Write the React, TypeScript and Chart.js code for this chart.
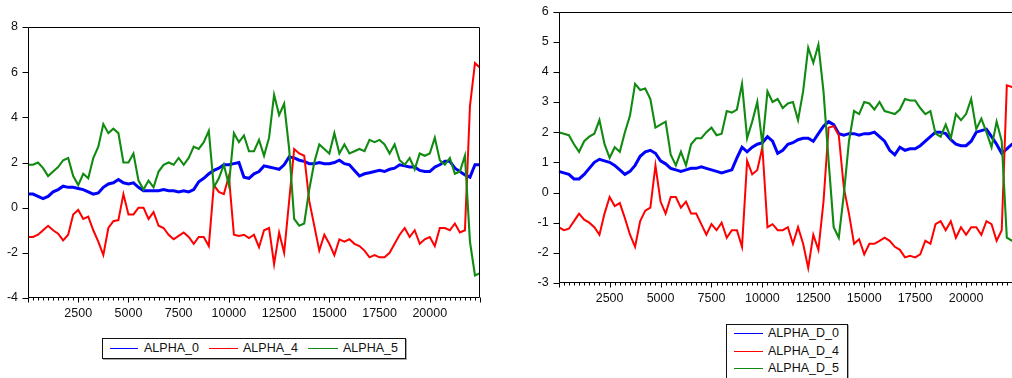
import React, { useEffect, useRef } from 'react';
import { Chart, registerables } from 'chart.js';
Chart.register(...registerables);

// observation index (categories), one sample every 250 observations
const OBS = [
  0, 250, 500, 750, 1000, 1250, 1500, 1750, 2000, 2250,
  2500, 2750, 3000, 3250, 3500, 3750, 4000, 4250, 4500, 4750,
  5000, 5250, 5500, 5750, 6000, 6250, 6500, 6750, 7000, 7250,
  7500, 7750, 8000, 8250, 8500, 8750, 9000, 9250, 9500, 9750,
  10000, 10250, 10500, 10750, 11000, 11250, 11500, 11750, 12000, 12250,
  12500, 12750, 13000, 13250, 13500, 13750, 14000, 14250, 14500, 14750,
  15000, 15250, 15500, 15750, 16000, 16250, 16500, 16750, 17000, 17250,
  17500, 17750, 18000, 18250, 18500, 18750, 19000, 19250, 19500, 19750,
  20000, 20250, 20500, 20750, 21000, 21250, 21500, 21750, 22000, 22250,
  22500,
];

const X_TICK_LABELS = [2500, 5000, 7500, 10000, 12500, 15000, 17500, 20000];

// Left panel
const ALPHA_0 = [
  0.6, 0.6, 0.5, 0.4, 0.5, 0.7, 0.8, 0.95, 0.9, 0.9,
  0.85, 0.8, 0.7, 0.6, 0.65, 0.9, 1.05, 1.1, 1.25, 1.1,
  1.05, 1.1, 0.9, 0.75, 0.75, 0.75, 0.75, 0.8, 0.75, 0.75,
  0.7, 0.75, 0.7, 0.8, 1.15, 1.3, 1.5, 1.65, 1.75, 1.9,
  1.9, 1.95, 2.0, 1.35, 1.3, 1.5, 1.6, 1.85, 1.8, 1.75,
  1.7, 1.9, 2.25, 2.2, 2.1, 2.05, 1.95, 1.95, 2.0, 1.95,
  1.95, 2.0, 2.1, 1.95, 1.9, 1.65, 1.4, 1.5, 1.55, 1.6,
  1.65, 1.6, 1.7, 1.75, 1.9, 1.85, 1.8, 1.8, 1.65, 1.6,
  1.6, 1.8, 1.9, 2.05, 2.05, 1.75, 1.6, 1.45, 1.35, 1.9,
  1.9,
];
const ALPHA_4 = [
  -1.3, -1.3, -1.2, -1.0, -0.8, -1.0, -1.15, -1.45, -1.2, -0.3,
  -0.1, -0.5, -0.4, -1.0, -1.5, -2.1, -0.9, -0.6, -0.55, 0.6,
  -0.3, -0.3, 0.0, 0.0, -0.5, -0.2, -0.8, -0.9, -1.2, -1.4,
  -1.25, -1.1, -1.3, -1.6, -1.3, -1.3, -1.7, 1.0, 0.7, 0.6,
  1.4, -1.2, -1.25, -1.2, -1.35, -1.2, -1.75, -1.0, -0.9, -2.5,
  -1.1, -2.0, 0.3, 2.6, 2.4, 2.3, 0.3, -0.8, -1.9, -1.2,
  -1.6, -2.1, -1.4, -1.5, -1.4, -1.6, -1.7, -1.9, -2.2, -2.1,
  -2.2, -2.2, -2.0, -1.6, -1.2, -0.9, -1.3, -1.0, -1.6, -1.4,
  -1.3, -1.7, -0.9, -0.9, -1.0, -0.7, -1.1, -1.0, 4.5, 6.4,
  6.2,
];
const ALPHA_5 = [
  1.9, 1.9, 2.0, 1.75, 1.4, 1.6, 1.8, 2.1, 2.2, 1.4,
  1.0, 1.5, 1.3, 2.2, 2.7, 3.7, 3.3, 3.5, 3.3, 2.0,
  2.0, 2.4, 1.2, 0.8, 1.2, 0.9, 1.6, 1.9, 2.0, 1.9,
  2.2, 1.9, 2.2, 2.7, 2.6, 2.9, 3.4, 0.9, 1.3, 1.9,
  1.0, 3.3, 2.9, 3.2, 2.5, 2.5, 3.0, 2.3, 3.1, 5.0,
  4.1, 4.6, 2.6, -0.5, -0.8, -0.7, 0.8, 2.0, 2.8, 2.6,
  2.4, 3.3, 2.4, 2.8, 2.4, 2.5, 2.6, 2.5, 3.0, 2.9,
  3.0, 2.8, 2.4, 2.8, 2.1, 1.9, 2.2, 1.7, 2.4, 2.3,
  2.4, 3.1, 2.1, 1.9, 2.2, 1.5, 1.6, 2.3, -1.5, -3.0,
  -2.9,
];

// Right panel
const ALPHA_D_0 = [
  0.7, 0.65, 0.6, 0.45, 0.45, 0.6, 0.8, 1.0, 1.1, 1.05,
  1.0, 0.9, 0.75, 0.6, 0.7, 0.9, 1.2, 1.35, 1.4, 1.3,
  1.05, 0.95, 0.8, 0.75, 0.7, 0.75, 0.8, 0.8, 0.85, 0.8,
  0.75, 0.7, 0.65, 0.7, 0.75, 1.15, 1.5, 1.35, 1.5, 1.6,
  1.65, 1.85, 1.7, 1.3, 1.4, 1.6, 1.65, 1.75, 1.8, 1.8,
  1.7, 1.95, 2.2, 2.35, 2.25, 1.95, 1.9, 1.95, 1.95, 1.9,
  1.95, 1.95, 2.0, 1.85, 1.7, 1.4, 1.25, 1.5, 1.4, 1.45,
  1.45, 1.55, 1.7, 1.85, 2.0, 2.0, 1.95, 1.75, 1.6, 1.55,
  1.55, 1.7, 2.0, 2.05, 2.1, 1.85, 1.6, 1.3, 1.45, 1.6,
  1.65,
];
const ALPHA_D_4 = [
  -1.15, -1.25, -1.2, -0.95, -0.7, -0.9, -1.0, -1.15, -1.4, -0.7,
  -0.15, -0.45, -0.35, -0.85, -1.4, -1.8, -0.95, -0.6, -0.5, 0.9,
  -0.3, -0.7, -0.15, -0.15, -0.5, -0.3, -0.7, -0.7, -1.05, -1.4,
  -1.05, -1.25, -1.0, -1.5, -1.25, -1.25, -1.8, 1.05, 0.6, 0.75,
  1.5, -1.15, -1.05, -1.25, -1.25, -1.15, -1.7, -1.15, -1.7, -2.5,
  -1.4, -1.9, -0.3, 2.15, 2.2, 1.9, 0.15, -0.7, -1.7, -1.55,
  -2.05, -1.7, -1.7, -1.6, -1.5, -1.6, -1.8, -1.9, -2.15, -2.1,
  -2.15, -2.05, -1.6, -1.7, -1.05, -0.95, -1.25, -0.95, -1.5, -1.15,
  -1.4, -1.15, -1.15, -1.4, -0.95, -1.05, -1.6, -1.25, 3.55, 3.5,
  3.45,
];
const ALPHA_D_5 = [
  2.0, 1.95, 1.9, 1.6, 1.35, 1.7, 1.85, 1.95, 2.4, 1.6,
  1.15, 1.5, 1.35, 2.0, 2.55, 3.6, 3.4, 3.45, 3.1, 2.15,
  2.25, 2.35, 1.25, 0.9, 1.35, 0.9, 1.6, 1.8, 1.8, 2.0,
  2.15, 1.9, 1.95, 2.7, 2.65, 2.75, 3.6, 1.8, 2.35, 3.0,
  1.6, 3.35, 3.0, 3.1, 2.8, 2.95, 3.0, 2.4, 3.35, 4.8,
  4.3, 4.9, 3.35, 1.05, -1.15, -1.5, -0.05, 1.7, 2.7, 2.6,
  3.0, 2.95, 2.75, 3.0, 2.7, 2.65, 2.6, 2.75, 3.1, 3.05,
  3.05, 2.8, 2.6, 2.7, 1.95, 1.85, 2.25, 1.8, 2.6, 2.4,
  2.6, 3.1, 2.1, 2.45, 2.0, 1.5, 2.35, 1.7, -1.5, -1.6,
  -1.6,
];

const BLUE = '#0000ff';
const RED = '#ff0000';
const GREEN = '#108a10';
const FONT = "'Liberation Sans', Arial, sans-serif";

const framePlugin = {
  id: 'frame',
  afterDraw(chart: any) {
    const { ctx, chartArea: a, scales } = chart;
    ctx.save();
    ctx.strokeStyle = '#000';
    ctx.lineWidth = 1;
    const l = Math.round(a.left) + 0.5;
    const t = Math.round(a.top) + 0.5;
    const r = Math.round(a.right) - 0.5;
    const b = Math.round(a.bottom) - 0.5;
    ctx.beginPath();
    ctx.moveTo(l, t); ctx.lineTo(r, t); ctx.lineTo(r, b); ctx.lineTo(l, b); ctx.closePath();
    // x ticks: minor every sample, longer at labelled values
    for (const v of OBS) {
      const px = Math.round(scales.x.getPixelForValue(v)) + 0.5;
      const major = v % 2500 === 0;
      ctx.moveTo(px, b);
      ctx.lineTo(px, b + (major ? 5 : 3));
    }
    // y ticks
    for (const tk of scales.y.ticks) {
      const py = Math.round(scales.y.getPixelForValue(tk.value)) + 0.5;
      ctx.moveTo(l, py);
      ctx.lineTo(l - 6, py);
    }
    ctx.stroke();
    ctx.restore();
  },
};

function makeConfig(
  series: { label: string; data: number[]; color: string; width: number; order: number }[],
  yMin: number, yMax: number, yStep: number,
  pad: { left: number; top: number; right: number },
  yWidth: number, xHeight: number,
): any {
  return {
    type: 'line',
    data: {
      datasets: series.map((s) => ({
        label: s.label,
        data: OBS.map((x, i) => ({ x, y: s.data[i] })),
        borderColor: s.color,
        backgroundColor: s.color,
        borderWidth: s.width,
        pointRadius: 0,
        tension: 0,
        fill: false,
        order: s.order,
      })),
    },
    options: {
      animation: false,
      responsive: false,
      events: [],
      layout: { padding: { left: pad.left, top: pad.top, right: pad.right, bottom: 0 } },
      plugins: { legend: { display: false }, tooltip: { enabled: false } },
      scales: {
        x: {
          type: 'linear',
          min: 0,
          max: 22500,
          afterFit: (s: any) => { s.height = xHeight; },
          afterBuildTicks: (s: any) => { s.ticks = X_TICK_LABELS.map((v) => ({ value: v })); },
          grid: { display: false, drawTicks: true, tickLength: 5 },
          border: { display: false },
          ticks: {
            autoSkip: false,
            maxRotation: 0,
            minRotation: 0,
            padding: 3,
            color: '#111',
            font: { family: FONT, size: 12.5 },
            callback: (v: any) => String(v),
          },
        },
        y: {
          min: yMin,
          max: yMax,
          afterFit: (s: any) => { s.width = yWidth; },
          grid: { display: false, drawTicks: true, tickLength: 6 },
          border: { display: false },
          ticks: {
            stepSize: yStep,
            padding: 4,
            color: '#111',
            font: { family: FONT, size: 12.5 },
            callback: (v: any) => String(v),
          },
        },
      },
    },
    plugins: [framePlugin],
  };
}

function ChartCanvas({ config, width, height, style }: any) {
  const ref = useRef<HTMLCanvasElement>(null);
  useEffect(() => {
    if (!ref.current) return;
    const chart = new Chart(ref.current, config);
    return () => chart.destroy();
  }, [config]);
  return <canvas ref={ref} width={width} height={height} style={{ position: 'absolute', width, height, ...style }} />;
}

const leftConfig = makeConfig(
  [
    { label: 'ALPHA_0', data: ALPHA_0, color: BLUE, width: 3, order: 3 },
    { label: 'ALPHA_4', data: ALPHA_4, color: RED, width: 2, order: 2 },
    { label: 'ALPHA_5', data: ALPHA_5, color: GREEN, width: 2.1, order: 1 },
  ],
  -4, 8, 2, { left: 0, top: 27, right: 20 }, 28, 32,
);

const rightConfig = makeConfig(
  [
    { label: 'ALPHA_D_0', data: ALPHA_D_0, color: BLUE, width: 3, order: 3 },
    { label: 'ALPHA_D_4', data: ALPHA_D_4, color: RED, width: 2, order: 2 },
    { label: 'ALPHA_D_5', data: ALPHA_D_5, color: GREEN, width: 2.1, order: 1 },
  ],
  -3, 6, 1, { left: 30, top: 9, right: 13 }, 28.7, 37,
);

const textStyle: React.CSSProperties = {
  position: 'absolute',
  fontFamily: FONT,
  fontSize: 12.5,
  color: '#111',
  lineHeight: '15px',
  whiteSpace: 'nowrap',
};

function Sample({ x, y, w, color }: any) {
  return <div style={{ position: 'absolute', left: x, top: y, width: w, height: 1, background: color }} />;
}

export default function App() {
  return (
    <div style={{ position: 'fixed', left: 0, top: 0, width: 1012, height: 378, overflow: 'hidden', background: '#fff' }}>
      <ChartCanvas config={leftConfig} width={500} height={330} style={{ left: 0, top: 0 }} />
      <ChartCanvas config={rightConfig} width={530} height={320} style={{ left: 500, top: 0 }} />

      {/* left legend */}
      <div style={{ position: 'absolute', left: 102, top: 338, width: 302, height: 19, border: '1px solid #111', boxShadow: '1px 1px 0 #aaa' }} />
      <Sample x={110} y={348} w={28} color={BLUE} />
      <div style={{ ...textStyle, left: 144, top: 341 }}>ALPHA_0</div>
      <Sample x={209} y={348} w={29} color={RED} />
      <div style={{ ...textStyle, left: 243, top: 341 }}>ALPHA_4</div>
      <Sample x={308} y={348} w={30} color={GREEN} />
      <div style={{ ...textStyle, left: 343, top: 341 }}>ALPHA_5</div>

      {/* right legend */}
      <div style={{ position: 'absolute', left: 726, top: 324, width: 120, height: 60, border: '1px solid #111', boxShadow: '1px 1px 0 #aaa' }} />
      <Sample x={734} y={333} w={29} color={BLUE} />
      <div style={{ ...textStyle, left: 768, top: 326 }}>ALPHA_D_0</div>
      <Sample x={734} y={351} w={29} color={RED} />
      <div style={{ ...textStyle, left: 768, top: 344 }}>ALPHA_D_4</div>
      <Sample x={734} y={368} w={29} color={GREEN} />
      <div style={{ ...textStyle, left: 768, top: 361 }}>ALPHA_D_5</div>
    </div>
  );
}
